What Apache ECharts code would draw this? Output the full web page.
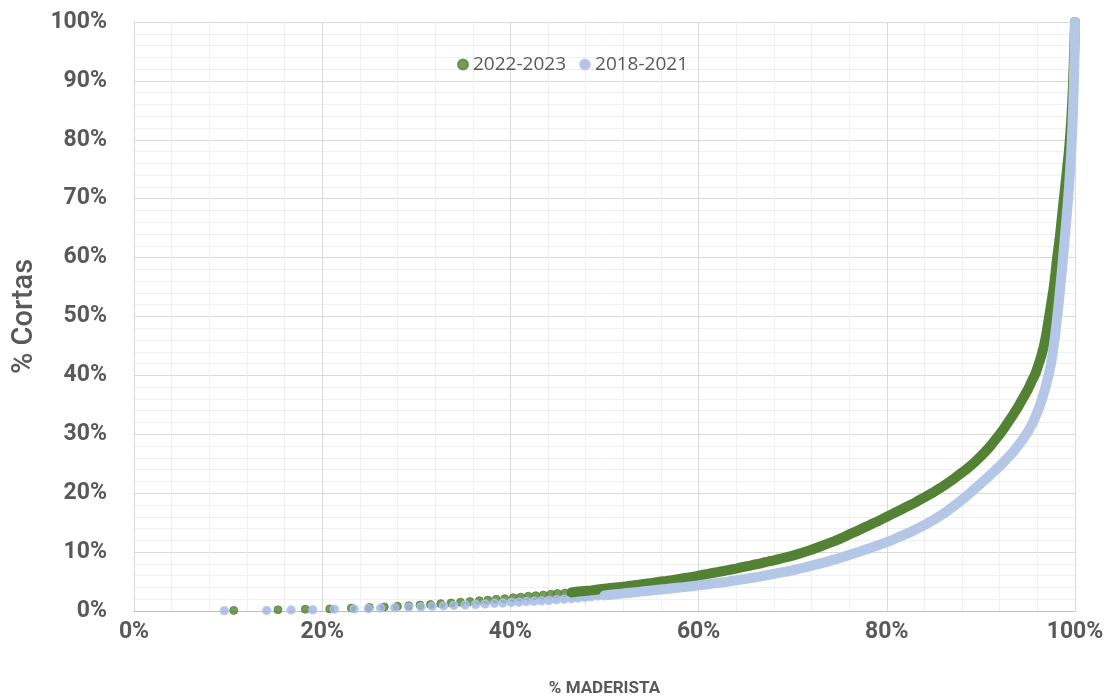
<!DOCTYPE html>
<html>
<head>
<meta charset="utf-8">
<script src="https://cdn.jsdelivr.net/npm/echarts@6/dist/echarts.min.js"></script>
<style>html,body{margin:0;padding:0;background:#fff;}#chart{width:1115px;height:696px;}</style>
</head>
<body>
<div id="chart"></div>
<script>
// Series names
const seriesNames = ['2022-2023', '2018-2021'];
// Axis tick values
const xTicks = [0, 20, 40, 60, 80, 100];
const yTicks = [0, 10, 20, 30, 40, 50, 60, 70, 80, 90, 100];

// 2022-2023 (% maderista, % cortas)
const greenX = [10.6,15.3,18.2,20.8,23.1,25.0,26.6,28.0,29.2,30.4,31.5,32.6,33.7,34.7,35.7,36.7,37.6,38.5,39.4,40.3,41.1,41.9,
 42.7,43.5,44.3,45.0,45.8,46.5,47.2,47.9,48.6,49.3,50.0,50.6,51.2,51.8,52.4,53.0,53.6,54.2,54.8,55.4,56.0,56.6,57.2,57.8,58.4,59.0,59.5,
 60.0,60.5,61.0,61.5,62.0,62.5,63.0,63.5,64.0,64.5,65.0,65.5,66.0,66.5,67.0,67.5,68.0,68.5,69.0,69.5,
 70.0,70.5,71.0,71.5,72.0,72.5,73.0,73.5,74.0,74.5,75.0,75.5,76.0,76.5,77.0,77.5,78.0,78.5,79.0,79.5,
 80.0,80.5,81.0,81.5,82.0,82.5,83.0,83.5,84.0,84.5,85.0,85.5,86.0,86.5,87.0,87.5,88.0,88.5,89.0,89.5,
 90.0,90.5,91.0,91.5,92.0,92.5,93.0,93.5,94.0,94.5,95.0,95.4,95.8,96.1,96.4,96.7,96.95,97.2,97.45,97.7,97.9,
 98.1,98.35,98.55,98.75,98.95,99.15,99.35,99.5,99.62,99.72,99.8,99.87,99.93,100];
const greenY = [0.1,0.2,0.3,0.35,0.5,0.6,0.7,0.8,0.9,1.0,1.1,1.25,1.35,1.5,1.6,1.75,1.85,2.0,2.1,2.25,2.35,2.5,
 2.6,2.7,2.85,2.95,3.05,3.15,3.3,3.4,3.5,3.65,3.8,3.9,4.0,4.1,4.2,4.35,4.45,4.6,4.7,4.85,5.0,5.1,5.25,5.4,5.55,5.7,5.85,
 6.0,6.15,6.3,6.45,6.6,6.75,6.9,7.05,7.2,7.4,7.55,7.7,7.9,8.05,8.25,8.45,8.6,8.8,9.0,9.2,
 9.4,9.65,9.9,10.15,10.4,10.7,11.0,11.3,11.6,11.9,12.25,12.6,13.0,13.35,13.7,14.1,14.45,14.85,15.2,15.6,
 16.0,16.4,16.8,17.2,17.6,18.0,18.4,18.85,19.3,19.75,20.2,20.7,21.2,21.75,22.3,22.9,23.5,24.1,24.8,25.5,
 26.3,27.1,28.0,29.0,30.0,31.1,32.3,33.5,34.8,36.2,37.6,39.0,40.3,41.7,43.2,45.0,47.0,49.5,52.0,54.5,57.0,
 60.0,63.0,66.0,69.0,72.0,75.0,78.0,81.0,84.0,87.0,90.0,93.0,96.0,100];

// 2018-2021 (% maderista, % cortas)
const blueX = [9.6,14.1,16.7,19.0,21.3,23.4,24.9,26.2,27.7,29.2,30.5,31.7,32.9,34.0,35.2,36.3,37.3,38.3,39.2,40.1,40.9,41.7,
 42.5,43.3,44.1,44.9,45.7,46.5,47.2,47.9,48.6,49.3,50.0,50.6,51.2,51.8,52.4,53.0,53.6,54.2,54.8,55.4,56.0,56.6,57.2,57.8,58.4,59.0,59.5,
 60.0,60.5,61.0,61.5,62.0,62.5,63.0,63.5,64.0,64.5,65.0,65.5,66.0,66.5,67.0,67.5,68.0,68.5,69.0,69.5,
 70.0,70.5,71.0,71.5,72.0,72.5,73.0,73.5,74.0,74.5,75.0,75.5,76.0,76.5,77.0,77.5,78.0,78.5,79.0,79.5,
 80.0,80.5,81.0,81.5,82.0,82.5,83.0,83.5,84.0,84.5,85.0,85.5,86.0,86.5,87.0,87.5,88.0,88.5,89.0,89.5,
 90.0,90.5,91.0,91.5,92.0,92.5,93.0,93.5,94.0,94.5,95.0,95.4,95.8,96.2,96.6,96.9,97.2,97.45,97.65,97.85,
 98.0,98.15,98.3,98.45,98.6,98.75,98.9,99.05,99.2,99.35,99.48,99.6,99.7,99.78,99.85,99.91,99.95,99.98,100,100];
const blueY = [0.05,0.1,0.15,0.2,0.3,0.35,0.4,0.5,0.55,0.65,0.7,0.8,0.85,0.95,1.0,1.1,1.2,1.3,1.35,1.45,1.5,1.6,
 1.65,1.72,1.8,1.9,2.0,2.1,2.2,2.3,2.4,2.55,2.65,2.75,2.85,2.95,3.05,3.15,3.25,3.35,3.45,3.55,3.65,3.75,3.85,3.95,4.05,4.15,4.25,
 4.35,4.45,4.55,4.65,4.75,4.85,4.95,5.1,5.2,5.35,5.45,5.6,5.7,5.85,6.0,6.15,6.3,6.45,6.6,6.75,
 6.9,7.1,7.3,7.5,7.7,7.9,8.1,8.3,8.55,8.75,9.0,9.25,9.5,9.75,10.0,10.3,10.55,10.85,11.1,11.4,
 11.7,12.0,12.35,12.7,13.05,13.4,13.8,14.2,14.6,15.05,15.5,16.0,16.5,17.05,17.65,18.25,18.9,19.55,20.25,20.95,
 21.65,22.35,23.1,23.85,24.6,25.4,26.25,27.15,28.15,29.25,30.45,31.6,33.0,34.6,36.5,38.2,40.1,42.0,44.0,46.3,
 48.3,50.5,52.8,55.2,57.7,60.3,63.0,65.8,68.7,71.7,74.8,78.0,81.3,84.6,88.0,91.5,94.8,97.5,99.0,100];

// x from which the points of each series lie so close that they merge into a band
const greenBandFrom = 46;
const blueBandFrom = 50;

const greenData = greenX.map((x, i) => [x, greenY[i]]);
const blueData = blueX.map((x, i) => [x, blueY[i]]);

const GREEN = '#548235';
const BLUE_FILL = '#9db5e2';
const BLUE_BAND = '#b4c7e7';

const chart = echarts.init(document.getElementById('chart'), null, {renderer: 'canvas'});
const labelStyle = {color: '#595959', fontSize: 23, fontFamily: 'Roboto', fontWeight: 'bold'};
chart.setOption({
  animation: false,
  backgroundColor: '#ffffff',
  grid: {left: 134, right: 40, top: 22, bottom: 85, containLabel: false, outerBoundsMode: 'none'},
  legend: {
    top: 50, left: 452,
    itemWidth: 10, itemHeight: 10, itemGap: 13,
    icon: 'circle',
    textStyle: {color: '#595959', fontSize: 19, fontFamily: 'Open Sans'},
    data: seriesNames
  },
  xAxis: {
    type: 'value', min: 0, max: 100, interval: 20,
    name: '% MADERISTA', nameLocation: 'middle', nameGap: 69,
    nameTextStyle: {color: '#595959', fontSize: 17, fontWeight: 'bold', fontFamily: 'Roboto'},
    axisLine: {show: true, lineStyle: {color: '#bfbfbf', width: 1}},
    axisTick: {show: false},
    axisLabel: Object.assign({margin: 10, formatter: v => xTicks.includes(v) ? v + '%' : ''}, labelStyle),
    splitLine: {show: true, lineStyle: {color: '#d9d9d9', width: 1}},
    minorTick: {show: false, splitNumber: 5},
    minorSplitLine: {show: true, lineStyle: {color: '#efefef', width: 1}}
  },
  yAxis: {
    type: 'value', min: 0, max: 100, interval: 10,
    name: '% Cortas', nameLocation: 'middle', nameGap: 89, nameRotate: 90,
    nameTextStyle: {color: '#595959', fontSize: 29, fontFamily: 'Roboto', fontWeight: 500},
    axisLine: {show: true, lineStyle: {color: '#d9d9d9', width: 1}},
    axisTick: {show: false},
    axisLabel: Object.assign({margin: 27, formatter: v => yTicks.includes(v) ? v + '%' : ''}, labelStyle),
    splitLine: {show: true, lineStyle: {color: '#d9d9d9', width: 1}},
    minorTick: {show: false, splitNumber: 5},
    minorSplitLine: {show: true, lineStyle: {color: '#efefef', width: 1}}
  },
  series: [
    {
      name: 'band-g', type: 'line', data: greenData.filter(d => d[0] >= greenBandFrom),
      showSymbol: false, symbol: 'none', silent: true,
      lineStyle: {color: GREEN, width: 10, cap: 'round', join: 'round'}
    },
    {
      name: seriesNames[0], type: 'scatter', data: greenData,
      symbol: 'circle', symbolSize: 8,
      itemStyle: {color: GREEN, borderColor: GREEN, borderWidth: 1}
    },
    {
      name: 'band-b', type: 'line', data: blueData.filter(d => d[0] >= blueBandFrom),
      showSymbol: false, symbol: 'none', silent: true,
      lineStyle: {color: BLUE_BAND, width: 10, cap: 'round', join: 'round'}
    },
    {
      name: seriesNames[1], type: 'scatter', data: blueData,
      symbol: 'circle', symbolSize: 8,
      itemStyle: {color: BLUE_FILL, borderColor: BLUE_BAND, borderWidth: 1.5}
    }
  ]
});
</script>
</body>
</html>
